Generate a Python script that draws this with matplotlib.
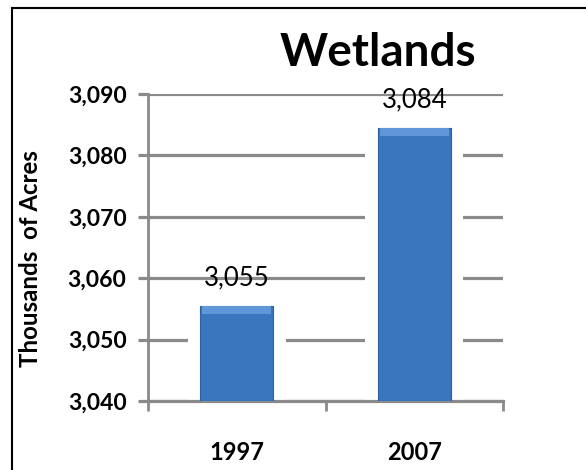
import matplotlib
matplotlib.use("Agg")
import matplotlib.pyplot as plt
from matplotlib.patches import Rectangle

plt.rcParams['font.family'] = ['Lato', 'DejaVu Sans']

# data
years = ['1997', '2007']
acres = [3055.4, 3084.4]
y_ticks = [3040, 3050, 3060, 3070, 3080, 3090]

grid_col = '#8a8a8a'
bar_col = '#3a76be'

fig = plt.figure(figsize=(5.86, 4.70), dpi=100)
ax = fig.add_axes([0.2526, 0.1468, 0.6058, 0.6532])

x = list(range(len(years)))
# white glow behind bars (hides gridlines)
ax.bar(x, [v - y_ticks[0] + 1.5 for v in acres], bottom=y_ticks[0] - 1.5,
       width=0.55, color='white', zorder=2)
ax.bar(x, [v - y_ticks[0] for v in acres], bottom=y_ticks[0], width=0.41,
       color=bar_col, edgecolor='#2f5f9e', linewidth=0.8, zorder=3)
# lighter bevel at the top of each bar
ax.bar(x, 1.3, bottom=[v - 1.3 for v in acres], width=0.39,
       color='#5f97d8', linewidth=0, zorder=3.5)

for xi, v in zip(x, acres):
    ax.text(xi, v + 2.6, f"{v:,.0f}", ha='center', va='bottom', fontsize=18.5,
            color='black', zorder=4)

ax.set_xlim(-0.5, 1.5)
ax.set_ylim(y_ticks[0], y_ticks[-1])
ax.set_yticks(y_ticks)
ax.set_yticklabels([f"{t:,}" for t in y_ticks], fontsize=16.5, fontweight='bold')
ax.yaxis.grid(True, color=grid_col, linewidth=2.3, zorder=0)
ax.set_axisbelow(True)
ax.tick_params(axis='y', length=7, width=2.3, color=grid_col, pad=8.5)

ax.set_xticks([-0.5, 0.5, 1.5])
ax.set_xticklabels(['', '', ''])
ax.tick_params(axis='x', which='major', length=7, width=2, color=grid_col)
ax.set_xticks(x, minor=True)
ax.set_xticklabels(years, minor=True, fontsize=17, fontweight='bold')
ax.tick_params(axis='x', which='minor', length=0, pad=29)

for s in ['top', 'right']:
    ax.spines[s].set_visible(False)
ax.spines['left'].set_color(grid_col)
ax.spines['left'].set_linewidth(2)
ax.spines['bottom'].set_color(grid_col)
ax.spines['bottom'].set_linewidth(2.3)

ax.set_ylabel('Thousands  of Acres', fontsize=17.3, fontweight='bold')
ax.yaxis.set_label_coords(-0.30, 0.465)

fig.text(0.645, 0.888, 'Wetlands', ha='center', va='center', fontsize=33,
         fontweight='bold')

# outer frame (right and bottom edges are cropped off)
fig.patches.append(Rectangle((0.02, -0.1), 1.2, 1.083, transform=fig.transFigure,
                             fill=False, edgecolor='black', linewidth=1.5))

fig.savefig('out.png', dpi=100)
